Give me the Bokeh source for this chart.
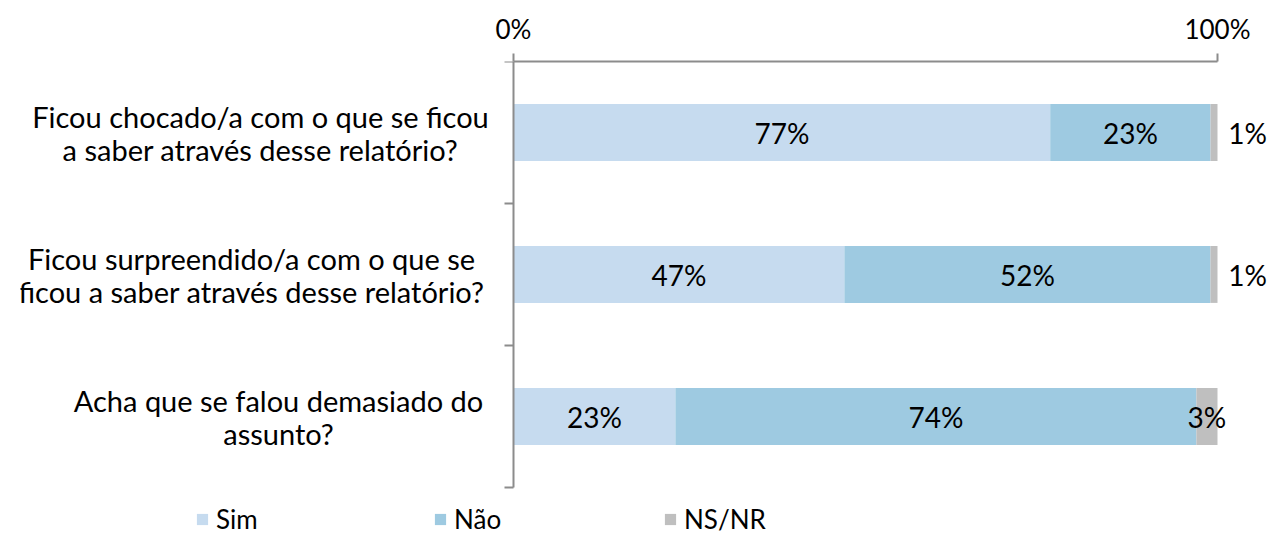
from bokeh.plotting import figure
from bokeh.models import (Range1d, FixedTicker, ColumnDataSource, LinearAxis,
                          Legend, LegendItem)
from bokeh.core.properties import value
from bokeh.embed import file_html
from bokeh.resources import INLINE

# ---- data ----
questions = [
    "Ficou chocado/a com o que se ficou\na saber através desse relatório?",
    "Ficou surpreendido/a com o que se\nficou a saber através desse relatório?",
    "Acha que se falou demasiado do\nassunto?",
]
series = ["Sim", "Não", "NS/NR"]
sim = [77, 47, 23]
nao = [23, 52, 74]
nsnr = [1, 1, 3]
tick_labels = {0: "0%", 100: "100%"}

colors = ["#C6DBEF", "#9ECAE1", "#BFBFBF"]
FONT = "Lato"
FS_AX = "26px"
FS_CAT = "29px"
FS_DL = "28px"
FS_LG = "26px"
AXC = "#8C8C8C"

W, H = 1270, 535
X0, X100 = 513, 1217          # pixel of 0% and 100%
YT, YB = 61, 487              # pixel of category band top / bottom
FL = 20                       # frame left
PX = (X100 - X0) / 100.0
n = len(questions)
PY = (YB - YT) / n

p = figure(width=W, height=H, output_backend="svg", toolbar_location=None,
           x_range=Range1d((FL - X0) / PX, 100 + (W - X100) / PX),
           y_range=Range1d(-(H - YB) / PY, n),
           x_axis_location="above", y_axis_location=None,
           min_border_left=FL, min_border_right=0,
           min_border_top=YT, min_border_bottom=0)
p.outline_line_color = None
p.grid.visible = False

ys = [n - 0.5 - i for i in range(n)]
tot = [a + b + c for a, b, c in zip(sim, nao, nsnr)]
e1 = [a / t * 100 for a, t in zip(sim, tot)]
e2 = [(a + b) / t * 100 for a, b, t in zip(sim, nao, tot)]
e3 = [100.0] * n

src = ColumnDataSource(dict(y=ys, l0=[0] * n, r0=e1, l1=e1, r1=e2, l2=e2, r2=e3))
rends = []
for k, (l, r) in enumerate([("l0", "r0"), ("l1", "r1"), ("l2", "r2")]):
    rr = p.hbar(y="y", left=l, right=r, height=0.4, source=src,
                fill_color=colors[k], line_color=None)
    rends.append(rr)

# data labels
lx, ly, lt = [], [], []
for i in range(n):
    lx += [e1[i] / 2, (e1[i] + e2[i]) / 2]
    ly += [ys[i], ys[i]]
    lt += [f"{sim[i]}%", f"{nao[i]}%"]
    w = e3[i] - e2[i]
    lx.append((e2[i] + e3[i]) / 2 if w >= 2 else 100 + 30 / PX)
    ly.append(ys[i])
    lt.append(f"{nsnr[i]}%")
p.text(x=lx, y=ly, text=lt, text_align="center", text_baseline="middle",
       text_font=value(FONT), text_font_size=FS_DL, text_color="#000000")

# category labels (centered lines, block right-aligned near the axis)
centers = [260, 251, 278]
LS = 33
cx, cy, ct, co = [], [], [], []
for i, q in enumerate(questions):
    lines = q.split("\n")
    m = len(lines)
    for j, line in enumerate(lines):
        cx.append(0)
        co.append(centers[i] - X0)
        cy.append(ys[i] + ((m - 1) / 2 - j) * LS / PY)
        ct.append(line)
p.text(x=cx, y=cy, text=ct, x_offset=co, text_align="center", text_baseline="middle",
       text_font=value(FONT), text_font_size=FS_CAT, text_color="#000000")

# top axis
ax = p.xaxis[0]
ax.ticker = FixedTicker(ticks=[0, 100])
ax.bounds = (0, 100)
ax.major_label_overrides = tick_labels
ax.minor_tick_line_color = None
ax.major_tick_out = 8
ax.major_tick_in = 0
ax.axis_line_color = AXC
ax.major_tick_line_color = AXC
ax.axis_line_width = 2
ax.major_tick_line_width = 2
ax.major_label_text_font = FONT
ax.major_label_text_font_size = FS_AX
ax.major_label_text_color = "#000000"
ax.major_label_standoff = 9

# left axis drawn at x = 0 inside the frame
ay = LinearAxis(fixed_location=0, bounds=(0, n), ticker=FixedTicker(ticks=list(range(n + 1))))
ay.minor_tick_line_color = None
ay.major_tick_out = 9
ay.major_tick_in = 0
ay.axis_line_color = AXC
ay.major_tick_line_color = AXC
ay.axis_line_width = 2
ay.major_tick_line_width = 2
ay.major_label_text_font_size = "0px"
ay.major_label_standoff = 0
p.add_layout(ay, "left")

# legend
gx = [195, 433, 663]
for k, name in enumerate(series):
    lg = Legend(items=[LegendItem(label=name, renderers=[rends[k]])],
                location=(gx[k] - FL, 0), orientation="horizontal",
                padding=0, margin=0, spacing=0, border_line_color=None,
                background_fill_alpha=0, glyph_width=14, glyph_height=14,
                label_standoff=7, label_height=18, label_text_font=FONT,
                label_text_font_size=FS_LG, label_text_color="#000000")
    p.add_layout(lg, "center")

open("out.html", "w").write(file_html(p, INLINE))
